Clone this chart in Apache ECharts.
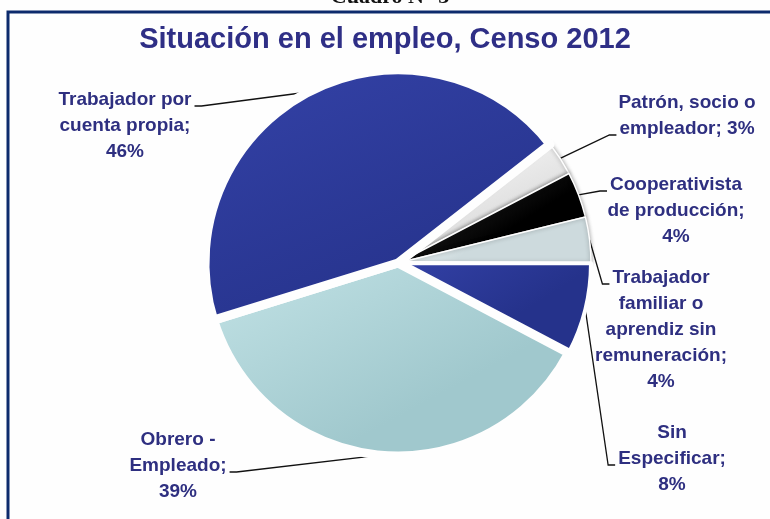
<!DOCTYPE html>
<html>
<head>
<meta charset="utf-8">
<script src="https://cdn.jsdelivr.net/npm/echarts@6/dist/echarts.min.js"></script>
<style>
  html, body { margin: 0; padding: 0; background: #fefefe; }
  #chart { width: 770px; height: 519px; }
</style>
</head>
<body>
<div id="chart"></div>
<script>
// Employment status, 2012 census (percent of employed population)
const categories = [
  'Patrón, socio o\nempleador',
  'Cooperativista\nde producción',
  'Trabajador\nfamiliar o\naprendiz sin\nremuneración',
  'Sin\nEspecificar',
  'Obrero -\nEmpleado',
  'Trabajador por\ncuenta propia'
];
const shares = [3, 4, 4, 8, 39, 46];
// text placed between the name and its percentage
const valueSeparators = [' ', '\n', '\n', '\n', '\n', '\n'];

const chartTitle = 'Situación en el empleo, Censo 2012';
const tableCaption = 'Cuadro N° 3';

// slice fills: [top colour, bottom colour]
const sliceFills = [
  ['#ffffff', '#d8d8d8'],
  ['#3a3a3a', '#000000'],
  ['#f7fbfb', '#cddadd'],
  ['#3341a6', '#25328b'],
  ['#c3e3e6', '#a0c8cd'],
  ['#3442a7', '#27348e']
];
// white rim around each slice, which opens the gaps between them
const sliceGaps = [1.5, 1.5, 1.5, 4, 9, 9];
// soft edge shading on the thin slices only
const sliceShade = [4, 4, 4, 0, 0, 0];

// label placement: centre x, top of text block, line the leader joins, side it joins on
const LABEL_FONT = 19;
const LABEL_LH = 26;
const labelSpots = [
  { x: 687, y: 90,  line: 1, side: 'left' },
  { x: 676, y: 172, line: 0, side: 'left' },
  { x: 661, y: 265, line: 0, side: 'left' },
  { x: 672, y: 420, line: 1, side: 'left' },
  { x: 178, y: 427, line: 1, side: 'right' },
  { x: 125, y: 87,  line: 0, side: 'right' }
];

const FONT_FAMILY = '"Liberation Sans", Arial, Helvetica, sans-serif';
const TEXT_COLOR = '#2e2f80';

const measureCtx = document.createElement('canvas').getContext('2d');
measureCtx.font = 'bold ' + LABEL_FONT + 'px ' + FONT_FAMILY;
function textWidth(s) { return measureCtx.measureText(s).width; }

const pieData = categories.map(function (name, i) {
  return {
    name: name,
    value: shares[i],
    itemStyle: {
      borderWidth: sliceGaps[i],
      shadowBlur: sliceShade[i],
      shadowColor: 'rgba(0,0,0,0.35)',
      color: new echarts.graphic.LinearGradient(0, 0, 0.3, 1, [
        { offset: 0, color: sliceFills[i][0] },
        { offset: 1, color: sliceFills[i][1] }
      ])
    }
  };
});

const chart = echarts.init(document.getElementById('chart'), null, { renderer: 'canvas' });

chart.setOption({
  backgroundColor: '#fefefe',
  animation: false,
  title: {
    text: chartTitle,
    left: 'center',
    top: 20,
    textStyle: {
      fontFamily: FONT_FAMILY,
      fontSize: 29,
      fontWeight: 'bold',
      color: '#2f2f86'
    }
  },
  graphic: [
    {
      type: 'rect',
      silent: true,
      shape: { x: 8, y: 12, width: 820, height: 600 },
      style: { fill: 'none', stroke: '#0c2a6c', lineWidth: 3 }
    },
    {
      type: 'text',
      silent: true,
      x: 390,
      y: -3,
      style: {
        text: tableCaption,
        font: 'bold 22px "Liberation Serif", "Times New Roman", serif',
        fill: '#111111',
        align: 'center',
        verticalAlign: 'middle'
      }
    }
  ],
  series: [
    {
      type: 'pie',
      center: [398, 263],
      radius: 193,
      startAngle: 38,
      clockwise: true,
      selectedMode: false,
      avoidLabelOverlap: false,
      emphasis: { disabled: true },
      itemStyle: {
        borderColor: '#fefefe'
      },
      label: {
        show: true,
        position: 'outside',
        color: TEXT_COLOR,
        fontFamily: FONT_FAMILY,
        fontSize: LABEL_FONT,
        fontWeight: 'bold',
        lineHeight: LABEL_LH,
        align: 'center',
        formatter: function (p) {
          return p.name + ';' + valueSeparators[p.dataIndex] + p.value + '%';
        }
      },
      labelLine: {
        show: true,
        length: 10,
        length2: 10,
        lineStyle: { color: '#111111', width: 1.3 }
      },
      labelLayout: function (p) {
        const s = labelSpots[p.dataIndex];
        const lines = (p.text || '').split('\n');
        const w = textWidth(lines[s.line] || '');
        const ay = s.y + s.line * LABEL_LH + LABEL_LH / 2 + 6;
        const ax = s.side === 'left' ? s.x - w / 2 - 3 : s.x + w / 2 + 3;
        const mx = s.side === 'left' ? ax - 7 : ax + 7;
        const start = p.labelLinePoints ? p.labelLinePoints[0] : [mx, ay];
        return {
          x: s.x,
          y: s.y,
          align: 'center',
          verticalAlign: 'top',
          labelLinePoints: [start, [mx, ay], [ax, ay]]
        };
      },
      data: pieData
    }
  ]
});
</script>
</body>
</html>
